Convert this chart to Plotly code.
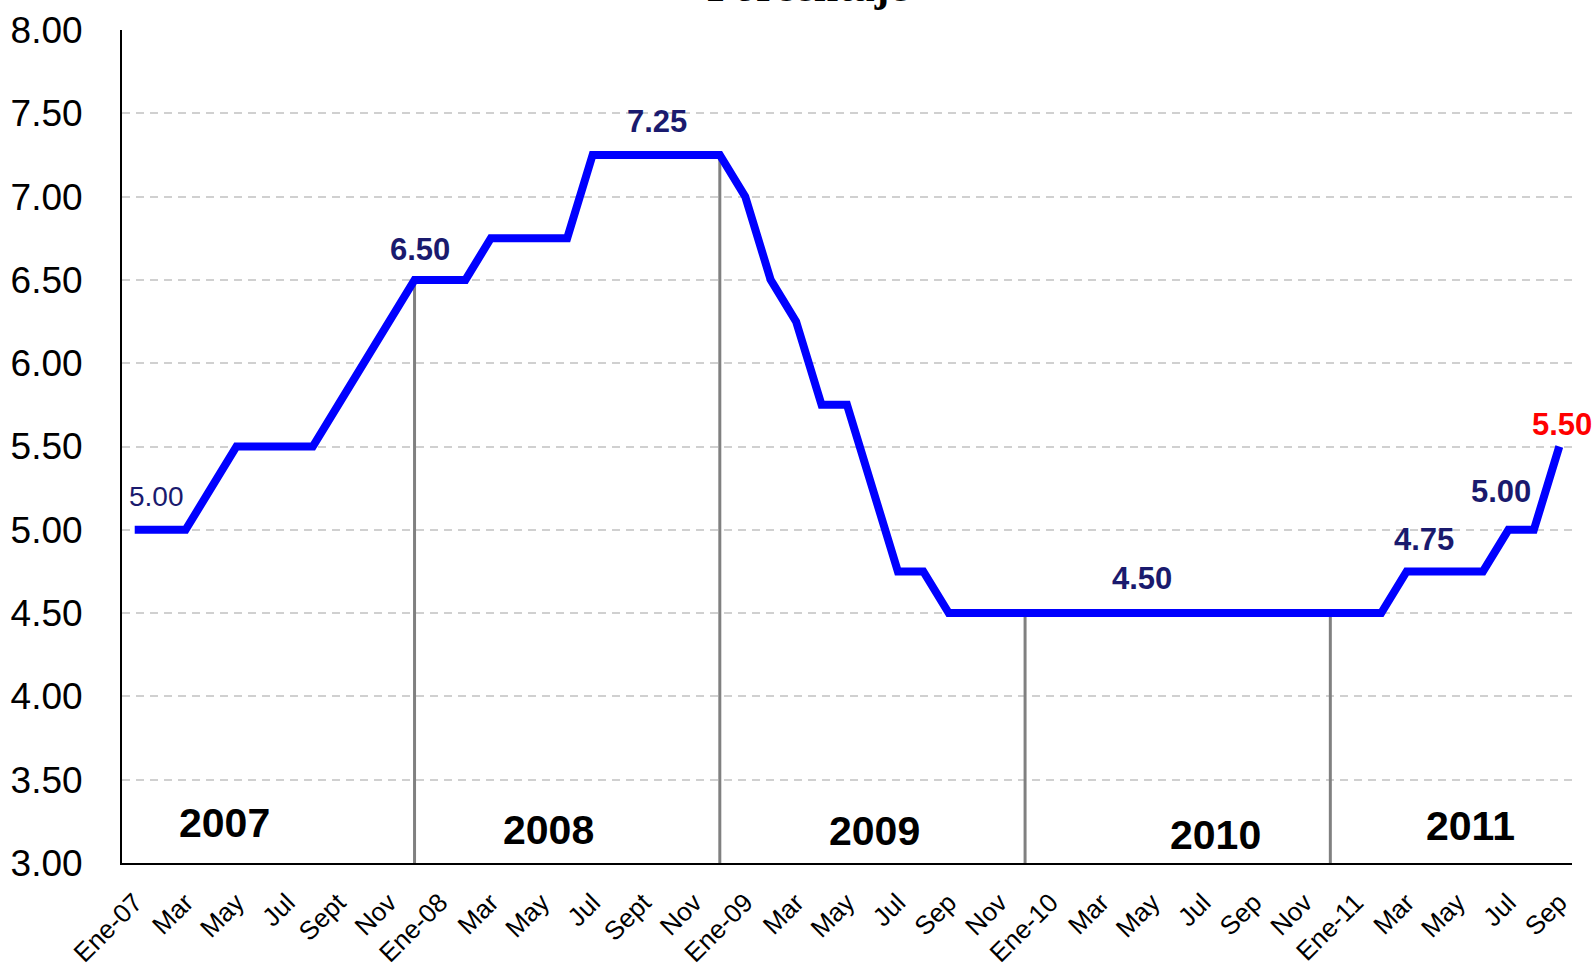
import plotly.graph_objects as go

# ---------------- data ----------------
month_labels = [
    "Ene-07", "Feb-07", "Mar-07", "Abr-07", "May-07", "Jun-07", "Jul-07", "Ago-07", "Sep-07", "Oct-07", "Nov-07", "Dic-07",
    "Ene-08", "Feb-08", "Mar-08", "Abr-08", "May-08", "Jun-08", "Jul-08", "Ago-08", "Sep-08", "Oct-08", "Nov-08", "Dic-08",
    "Ene-09", "Feb-09", "Mar-09", "Abr-09", "May-09", "Jun-09", "Jul-09", "Ago-09", "Sep-09", "Oct-09", "Nov-09", "Dic-09",
    "Ene-10", "Feb-10", "Mar-10", "Abr-10", "May-10", "Jun-10", "Jul-10", "Ago-10", "Sep-10", "Oct-10", "Nov-10", "Dic-10",
    "Ene-11", "Feb-11", "Mar-11", "Abr-11", "May-11", "Jun-11", "Jul-11", "Ago-11", "Sep-11",
]

rate_2007 = [5.00, 5.00, 5.00, 5.25, 5.50, 5.50, 5.50, 5.50, 5.75, 6.00, 6.25, 6.50]
rate_2008 = [6.50, 6.50, 6.75, 6.75, 6.75, 6.75, 7.25, 7.25, 7.25, 7.25, 7.25, 7.25]
rate_2009 = [7.00, 6.50, 6.25, 5.75, 5.75, 5.25, 4.75, 4.75, 4.50, 4.50, 4.50, 4.50]
rate_2010 = [4.50, 4.50, 4.50, 4.50, 4.50, 4.50, 4.50, 4.50, 4.50, 4.50, 4.50, 4.50]
rate_2011 = [4.50, 4.50, 4.75, 4.75, 4.75, 4.75, 5.00, 5.00, 5.50]
rates = rate_2007 + rate_2008 + rate_2009 + rate_2010 + rate_2011

tick_labels = [
    "Ene-07", "Mar", "May", "Jul", "Sept", "Nov",
    "Ene-08", "Mar", "May", "Jul", "Sept", "Nov",
    "Ene-09", "Mar", "May", "Jul", "Sep", "Nov",
    "Ene-10", "Mar", "May", "Jul", "Sep", "Nov",
    "Ene-11", "Mar", "May", "Jul", "Sep",
]

# December points where a drop line marks the year boundary
year_end_months = ["Dic-07", "Dic-08", "Dic-09", "Dic-10"]

# value labels: (text, x position in months, y value, colour, bold)
value_labels = [
    ("5.00", 0.84, 5.20, "#1a1a6e", False),
    ("6.50", 11.2, 6.68, "#1a1a6e", True),
    ("7.25", 20.55, 7.45, "#1a1a6e", True),
    ("4.50", 39.6, 4.71, "#1a1a6e", True),
    ("4.75", 50.68, 4.94, "#1a1a6e", True),
    ("5.00", 53.7, 5.23, "#1a1a6e", True),
    ("5.50", 56.1, 5.635, "#ff0000", True),
]

year_labels = [("2007", 3.51, 3.24), ("2008", 16.25, 3.20), ("2009", 29.1, 3.19),
               ("2010", 42.5, 3.17), ("2011", 52.5, 3.22)]

# ---------------- figure ----------------
x_idx = list(range(len(month_labels)))

fig = go.Figure()

# drop lines
dx, dy = [], []
for m in year_end_months:
    i = month_labels.index(m)
    dx += [i, i, None]
    dy += [3.0, rates[i], None]
fig.add_trace(go.Scatter(x=dx, y=dy, mode="lines",
                         line=dict(color="#808080", width=3),
                         hoverinfo="skip", showlegend=False))

fig.add_trace(go.Scatter(x=x_idx, y=rates, mode="lines",
                         line=dict(color="#0000ff", width=8),
                         text=month_labels, showlegend=False))

annotations = []
for txt, xv, yv, col, bold in value_labels:
    annotations.append(dict(
        x=xv, y=yv, xref="x", yref="y", text=f"<b>{txt}</b>" if bold else txt,
        showarrow=False, xanchor="center", yanchor="middle",
        font=dict(family="Liberation Sans, Arial", size=31 if bold else 28, color=col)))
for txt, xv, yv in year_labels:
    annotations.append(dict(
        x=xv, y=yv, xref="x", yref="y", text=f"<b>{txt}</b>",
        showarrow=False, xanchor="center", yanchor="middle",
        font=dict(family="Liberation Sans, Arial", size=41, color="#000000")))
annotations.append(dict(
    x=0.473, y=1.052, xref="paper", yref="paper", text="<b>Porcentaje</b>",
    showarrow=False, xanchor="center", yanchor="middle",
    font=dict(family="Liberation Serif, Times New Roman", size=44, color="#000000")))

fig.update_layout(
    width=1596, height=970,
    margin=dict(l=122, r=24, t=30, b=107, autoexpand=False),
    paper_bgcolor="white", plot_bgcolor="white",
    showlegend=False,
    annotations=annotations,
    font=dict(family="Liberation Sans, Arial", color="#000000"),
)

fig.update_xaxes(
    range=[-0.5, len(month_labels) - 0.5],
    tickmode="array",
    tickvals=x_idx[::2],
    ticktext=tick_labels,
    tickangle=-45,
    tickfont=dict(size=26, family="Liberation Sans, Arial", color="#000000"),
    showgrid=False, zeroline=False,
    showline=True, linecolor="#000000", linewidth=2,
    ticks="", ticklabelstandoff=12, automargin=False,
)
fig.update_yaxes(
    range=[3, 8],
    tick0=3, dtick=0.5, tickformat=".2f",
    tickfont=dict(size=37, family="Liberation Sans, Arial", color="#000000"),
    showgrid=True, gridcolor="#d0d0d0", gridwidth=2, griddash="8px,6px",
    zeroline=False,
    showline=True, linecolor="#000000", linewidth=2,
    ticks="", ticklabelstandoff=30, automargin=False,
)

fig.write_html("out.html", config={"displayModeBar": False},
               post_script="document.body.style.margin='0';document.body.style.overflow='hidden';")
